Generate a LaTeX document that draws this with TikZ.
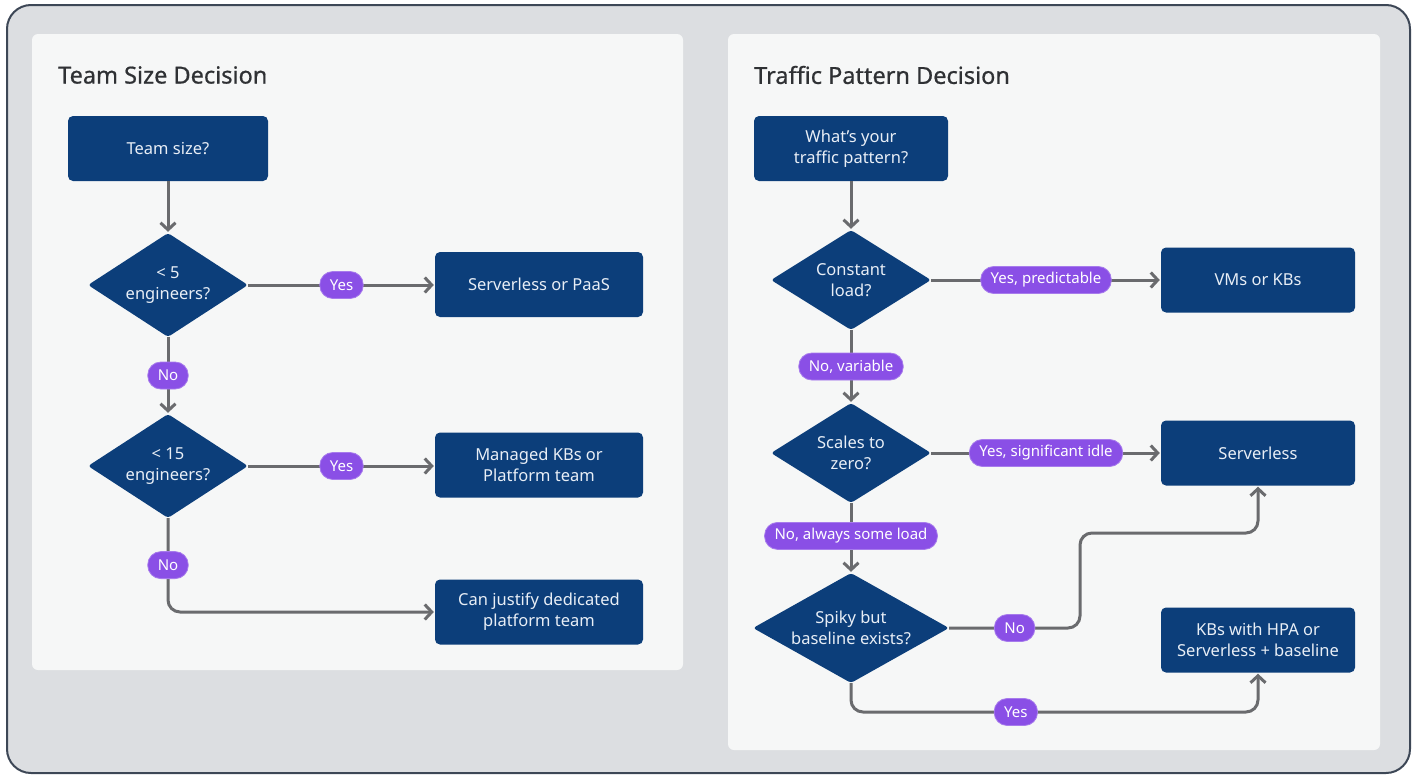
\documentclass[tikz,border=0pt]{standalone}
\usepackage{fontspec}
\setmainfont{Noto Sans}
\newfontfamily\headingfont{Noto Sans}[FakeBold=0.7]
\usetikzlibrary{shapes.geometric,arrows.meta}
\definecolor{navy}{HTML}{0C3E7A}
\definecolor{boxtext}{HTML}{E8EEF6}
\definecolor{violet}{HTML}{8A4FE6}
\definecolor{connector}{HTML}{6A6B6E}
\definecolor{panelbg}{HTML}{F6F7F7}
\definecolor{outerbg}{HTML}{DCDEE1}
\definecolor{frame}{HTML}{3D4756}
\definecolor{titlecol}{HTML}{2F3134}
\tikzset{
  x=1pt, y=-1pt,
  panel/.style={fill=panelbg, rounded corners=6pt},
  heading/.style={anchor=west, text=titlecol, inner sep=0pt, font=\headingfont\fontsize{23.5}{28}\selectfont},
  stepbox/.style={fill=navy, rounded corners=5pt, text=boxtext, align=center,
    minimum height=65pt, inner sep=0pt, font=\fontsize{16.5}{21}\selectfont},
  decision/.style={diamond, fill=navy, rounded corners=3pt, inner sep=0pt,
    minimum width=160pt, minimum height=104pt},
  decisiontext/.style={text=boxtext, align=center, inner sep=0pt, font=\fontsize{16.5}{21}\selectfont},
  pill/.style={fill=violet, draw=violet!75!white, line width=0.8pt, rounded corners=13pt,
    text=white, minimum height=27pt, inner xsep=10pt, inner ysep=0pt,
    font=\fontsize{15}{17}\selectfont},
  conn/.style={draw=connector, line width=3pt, -{Straight Barb[length=7pt,width=15pt]}, shorten >=1pt}
}
\begin{document}
\begin{tikzpicture}
\useasboundingbox (0,0) rectangle (1416,774);
% outer frame
\draw[fill=outerbg, draw=frame, line width=2pt, rounded corners=24pt] (7,5) rectangle (1410,773);
% panels
\fill[panel] (32,34) rectangle (683,670);
\fill[panel] (728,34) rectangle (1380,750);

% ---------- Team size ----------
\node[heading] (t1) at (58,75) {Team Size Decision};
\node[stepbox, minimum width=200pt] (ts) at (168,148.5) {Team size?};
\node[decision] (d5) at (168,285) {};
\node[decisiontext] (d5t) at (d5) {< 5\\engineers?};
\node[stepbox, minimum width=208pt] (spaas) at (539,284.5) {Serverless or PaaS};
\node[decision] (d15) at (168,466) {};
\node[decisiontext] (d15t) at (d15) {< 15\\engineers?};
\node[stepbox, minimum width=208pt] (mkb) at (539,465) {Managed KBs or\\Platform team};
\node[stepbox, minimum width=208pt] (dpt) at (539,612) {Can justify dedicated\\platform team};

\draw[conn] (ts) -- (d5);
\draw[conn] (d5.east) -- node[pill] (y5) {Yes} (spaas.west |- d5.east);
\draw[conn] (d5) -- node[pill] (n5) {No} (d15);
\draw[conn] (d15.east) -- node[pill] (y15) {Yes} (mkb.west |- d15.east);
\draw[conn, rounded corners=12pt] (d15.south) |- node[pill, pos=0.25] (n15) {No} (dpt.west);

% ---------- Traffic pattern ----------
\node[heading] (t2) at (754,75) {Traffic Pattern Decision};
\node[stepbox, minimum width=194pt] (tp) at (851,148.5) {What's your\\traffic pattern?};
\node[decision, minimum height=100pt] (dc) at (851,280) {};
\node[decisiontext] (dct) at (dc) {Constant\\load?};
\node[stepbox, minimum width=194pt] (vm) at (1258,280) {VMs or KBs};
\node[decision, minimum height=100pt] (dz) at (851,453) {};
\node[decisiontext] (dzt) at (dz) {Scales to\\zero?};
\node[stepbox, minimum width=194pt] (sl) at (1258,453) {Serverless};
\node[decision, minimum width=196pt, minimum height=110pt] (ds) at (851,628) {};
\node[decisiontext] (dst) at (ds) {Spiky but\\baseline exists?};
\node[stepbox, minimum width=194pt] (hpa) at (1258,640) {KBs with HPA or\\Serverless + baseline};

\coordinate (nx) at (1080,533);
\coordinate (yy) at (851,712);

\draw[conn] (tp) -- (dc);
\draw[conn] (dc.east) -- node[pill] (yp) {Yes, predictable} (vm.west |- dc.east);
\draw[conn] (dc) -- node[pill] (nv) {No, variable} (dz);
\draw[conn] (dz.east) -- node[pill] (yi) {Yes, significant idle} (sl.west |- dz.east);
\draw[conn] (dz) -- node[pill, pos=0.47] (na) {No, always some load} (ds);
\draw[conn, rounded corners=12pt] (ds.east) -- node[pill, pos=0.5] (ns) {No} (ds.east -| nx)
  -- (nx) -- (nx -| sl.south) -- (sl.south);
\draw[conn, rounded corners=12pt] (ds.south) -- (yy) -- node[pill, pos=0.405] (ys) {Yes} (yy -| hpa.south) -- (hpa.south);
\end{tikzpicture}
\end{document}
